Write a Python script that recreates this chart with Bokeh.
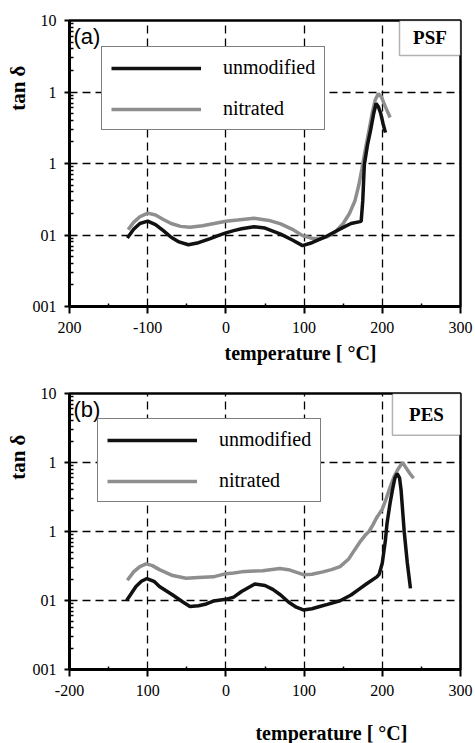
import numpy as np
from bokeh.plotting import figure
from bokeh.models import (ColumnDataSource, Legend, LegendItem, Label, BoxAnnotation, FixedTicker, Title)
from bokeh.layouts import column
from bokeh.embed import file_html
from bokeh.resources import INLINE

# ---------------- data ----------------
psf_unmod_t = [-126, -118, -110, -100, -90, -80, -70, -60, -48, -35, -20, -10, 0, 10, 20, 36, 50, 70, 85, 98,
               110, 127, 140, 150, 160, 173, 175, 177, 181, 185, 189, 192, 195, 198, 201, 204]
psf_unmod = [0.0091, 0.012, 0.0145, 0.0156, 0.014, 0.0115, 0.0093, 0.008, 0.0073, 0.0078, 0.0089, 0.0098, 0.0107,
             0.0115, 0.0122, 0.013, 0.0125, 0.0103, 0.0085, 0.0071, 0.0078, 0.0094, 0.0112, 0.0128, 0.0145, 0.0155,
             0.03, 0.095, 0.18, 0.29, 0.5, 0.69, 0.62, 0.5, 0.36, 0.27]

psf_nit_t = [-125, -118, -110, -100, -90, -80, -70, -58, -46, -30, -15, 0, 15, 36, 55, 70, 85, 98, 110, 119, 130,
             140, 150, 158, 165, 170, 174, 178, 183, 187, 191, 195, 199, 204, 210]
psf_nit = [0.0119, 0.015, 0.018, 0.0202, 0.019, 0.0165, 0.0145, 0.0132, 0.0128, 0.0135, 0.0145, 0.0156, 0.0162,
           0.0172, 0.016, 0.0143, 0.012, 0.0098, 0.009, 0.0088, 0.0095, 0.011, 0.0145, 0.02, 0.03, 0.05, 0.085,
           0.15, 0.29, 0.5, 0.78, 0.95, 0.85, 0.62, 0.44]

pes_unmod_t = [-127, -121, -115, -108, -101, -92, -85, -68, -55, -46, -35, -25, -16, 0, 10, 20, 37, 50, 60, 70, 80,
               90, 99, 110, 120, 130, 146, 160, 170, 180, 193, 196, 200, 204, 206, 210, 213, 216, 219, 222, 224,
               226, 228, 232, 236]
pes_unmod = [0.01, 0.0126, 0.016, 0.019, 0.0208, 0.019, 0.016, 0.012, 0.0095, 0.0082, 0.0084, 0.0089, 0.0098,
             0.0104, 0.0112, 0.0135, 0.0173, 0.0165, 0.0145, 0.012, 0.0095, 0.008, 0.0073, 0.0076, 0.0082, 0.0088,
             0.0099, 0.012, 0.0145, 0.0175, 0.022, 0.024, 0.035, 0.075, 0.13, 0.26, 0.4, 0.59, 0.69, 0.6, 0.4,
             0.2, 0.1, 0.035, 0.015]

pes_nit_t = [-126, -118, -110, -102, -94, -85, -68, -51, -35, -16, 0, 10, 20, 30, 47, 69, 80, 99, 110, 124, 135,
             146, 157, 165, 172, 178, 183, 188, 193, 200, 205, 210, 215, 220, 226, 230, 235, 240]
pes_nit = [0.0196, 0.026, 0.031, 0.034, 0.032, 0.028, 0.023, 0.021, 0.0215, 0.022, 0.0245, 0.025, 0.026, 0.0265,
           0.027, 0.029, 0.028, 0.0237, 0.024, 0.026, 0.028, 0.031, 0.04, 0.055, 0.072, 0.088, 0.1, 0.125, 0.16,
           0.21, 0.3, 0.44, 0.62, 0.8, 1.0, 0.85, 0.7, 0.59]

x_ticks = [-200, -100, 0, 100, 200, 300]
x_labels_a = ["200", "-100", "0", "100", "200", "300"]
x_labels_b = ["-200", "100", "0", "100", "200", "300"]
y_ticks = [0.001, 0.01, 0.1, 1, 10]
y_labels = ["001", "01", "1", "1", "10"]
series_names = ["unmodified", "nitrated"]
x_title = "temperature [ °C]"
y_title = "tan δ"

SERIF = "Liberation Serif, Times New Roman, serif"
BLACK = "#111111"
GRAY = "#8e8e8e"


def make_panel(height, border, t_u, v_u, t_n, v_n, xlabels, panel_tag, name_box, box_left, box_bottom,
               legend_loc, y_off, x_title_standoff=None):
    left, right, top, bottom = border
    p = figure(width=475, height=height, x_range=(-200, 300), y_range=(0.001, 10), y_axis_type="log",
               output_backend="svg", toolbar_location=None,
               min_border_left=left, min_border_right=right, min_border_top=top, min_border_bottom=bottom)
    p.background_fill_color = "white"
    p.border_fill_color = "white"
    p.outline_line_color = "black"
    p.outline_line_width = 2.5

    # grid
    p.xgrid.ticker = FixedTicker(ticks=[-100, 0, 100, 200])
    p.ygrid.ticker = FixedTicker(ticks=[0.01, 0.1, 1])
    for g in (p.xgrid, p.ygrid):
        g.grid_line_color = "black"
        g.grid_line_dash = "8 5"
        g.grid_line_width = 1.3

    # axes
    p.xaxis.ticker = FixedTicker(ticks=x_ticks, minor_ticks=[-150, -50, 50, 150, 250])
    p.xaxis.major_label_overrides = {t: l for t, l in zip(x_ticks, xlabels)}
    minors = [m * 10.0 ** e for e in range(-3, 1) for m in range(2, 10)]
    p.yaxis.ticker = FixedTicker(ticks=y_ticks, minor_ticks=minors)
    p.yaxis.major_label_overrides = {t: l for t, l in zip(y_ticks, y_labels)}
    for ax in (p.xaxis, p.yaxis):
        ax.axis_line_width = 3
        ax.axis_line_color = "black"
        ax.major_tick_line_color = "black"
        ax.minor_tick_line_color = "black"
        ax.major_tick_line_width = 2
        ax.minor_tick_line_width = 1.5
        ax.major_tick_in = 0
        ax.minor_tick_out = 0
        ax.major_label_text_font = SERIF
        ax.major_label_text_font_size = "16px"
        ax.major_label_text_color = "black"
    p.xaxis.major_tick_out = 7
    p.xaxis.minor_tick_in = 3
    p.xaxis.major_label_standoff = 8
    p.yaxis.major_tick_out = 5
    p.yaxis.minor_tick_in = 4
    p.yaxis.major_label_standoff = 8

    src_u = ColumnDataSource(dict(x=t_u, y=v_u))
    src_n = ColumnDataSource(dict(x=t_n, y=v_n))
    r_n = p.line("x", "y", source=src_n, line_color=GRAY, line_width=3.5)
    r_u = p.line("x", "y", source=src_u, line_color=BLACK, line_width=3.5)

    legend = Legend(items=[LegendItem(label=series_names[0], renderers=[r_u]),
                           LegendItem(label=series_names[1], renderers=[r_n])],
                    location=legend_loc)
    legend.border_line_color = "black"
    legend.border_line_width = 1.5
    legend.background_fill_color = "white"
    legend.background_fill_alpha = 1
    legend.label_text_font = SERIF
    legend.label_text_font_size = "20px"
    legend.label_text_color = "black"
    legend.glyph_width = 90
    legend.glyph_height = 22
    legend.label_height = 22
    legend.spacing = 18
    legend.padding = 9
    legend.label_standoff = 22
    legend.margin = 0
    p.add_layout(legend)

    # name box
    box = BoxAnnotation(left=box_left, right=300, bottom=box_bottom, top=10, fill_color="white", fill_alpha=1,
                        line_color="black", line_width=1.5, level="annotation")
    p.add_layout(box)
    ymid = 10 ** ((np.log10(box_bottom) + 1) / 2)
    p.add_layout(Label(x=(box_left + 300) / 2, y=ymid, text=name_box, text_align="center",
                       text_baseline="middle", text_font=SERIF, text_font_style="bold",
                       text_font_size="19px", text_color="black"))

    p.add_layout(Label(x=-200, y=10, x_offset=4, y_offset=-3, text=panel_tag, text_baseline="top",
                       text_font="Liberation Sans", text_font_size="22px", text_color="black"))

    yt = Title(text=y_title, align="right", offset=y_off, text_font=SERIF, text_font_style="bold",
               text_font_size="21px", text_color="black", standoff=0)
    p.add_layout(yt, "left")
    if x_title_standoff is not None:
        xt = Title(text=x_title, align="left", offset=155, text_font=SERIF, text_font_style="bold",
                   text_font_size="20px", text_color="black", standoff=x_title_standoff)
        p.add_layout(xt, "below")
    return p


p1 = make_panel(370, (63, 8, 20, 64), psf_unmod_t, psf_unmod, psf_nit_t, psf_nit, x_labels_a, "(a)", "PSF",
                222, 3.24, (32, 176), 45, x_title_standoff=9)
p2 = make_panel(333, (69, 15, 23, 34), pes_unmod_t, pes_unmod, pes_nit_t, pes_nit, x_labels_b, "(b)", "PES",
                213, 2.49, (28, 167), 41)

# strip under panel (b) carrying its axis title
p3 = figure(width=475, height=40, x_range=(-200, 300), y_range=(0, 1), output_backend="svg",
            toolbar_location=None, x_axis_location=None, y_axis_location=None,
            min_border_left=69, min_border_right=15, min_border_top=0, min_border_bottom=0)
p3.outline_line_color = None
p3.xgrid.visible = False
p3.ygrid.visible = False
p3.border_fill_color = "white"
p3.add_layout(Label(x=135, y=0.275, text=x_title, text_align="center", text_baseline="middle",
                    text_font=SERIF, text_font_style="bold", text_font_size="20px", text_color="black"))

layout = column(p1, p2, p3, spacing=0)
open("out.html", "w").write(file_html(layout, INLINE))
